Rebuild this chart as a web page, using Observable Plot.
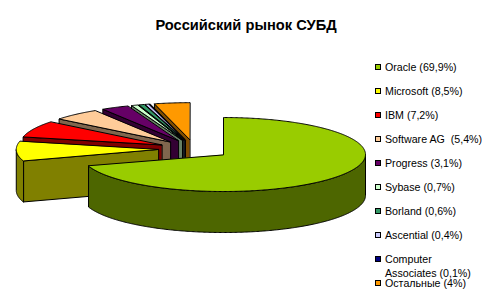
<!DOCTYPE html>
<html><head><meta charset="utf-8">
<script src="https://cdn.jsdelivr.net/npm/d3@7"></script>
<script src="https://cdn.jsdelivr.net/npm/@observablehq/plot@0.6"></script>
<style>
body{margin:0;background:#fff;}
#wrap{position:relative;width:492px;height:301px;overflow:hidden;font-family:"Liberation Sans",Arial,sans-serif;color:#000;}
#title{position:absolute;left:0;width:492px;text-align:center;top:17.6px;font-size:14.67px;font-weight:bold;line-height:1;}
#chart{position:absolute;left:0;top:0;}
.lg{position:absolute;left:375px;font-size:10.67px;line-height:14px;}
.sw{position:absolute;left:0;top:0;width:4px;height:4px;border:1px solid #000;}
.lt{position:absolute;left:10px;top:-4.2px;white-space:pre;}
</style></head><body>
<div id="wrap"><div id="chart"></div><div id="title"></div></div>
<script>
const title = "Российский рынок СУБД";
const vendors = ["Oracle", "Microsoft", "IBM", "Software AG ", "Progress", "Sybase", "Borland", "Ascential", "Computer Associates", "Остальные"];
const shares = [69.9, 8.5, 7.2, 5.4, 3.1, 0.7, 0.6, 0.4, 0.1, 4];
const shareLabels = ["69,9%", "8,5%", "7,2%", "5,4%", "3,1%", "0,7%", "0,6%", "0,4%", "0,1%", "4%"];
const colors = ["#99CC00", "#FFFF00", "#FF0000", "#FFCC99", "#660066", "#CCFFCC", "#339966", "#CCCCFF", "#000080", "#FF9900"];

// geometry (unit pie: x radius 1, y radius 1 after projection scales)
const CX = 193.8, CY = 148.5, RX = 142, RY = 37;
const EXPLODE = 0.254, THICK = 41 / RY;

const side = c => { const r = d3.rgb(c); return d3.rgb(r.r / 2, r.g / 2, r.b / 2).formatHex(); };
const arcs = d3.pie().sort(null).value(d => d)(shares);

function sample(a1, a2) {
  const n = Math.max(2, Math.ceil(Math.abs(a2 - a1) / (Math.PI / 360)));
  return d3.range(n + 1).map(i => a1 + (a2 - a1) * i / n);
}
const P = (ox, oy, a, dz = 0) => [ox + Math.sin(a), oy - Math.cos(a) + dz];

const pieces = [];
const order = arcs.map((a, i) => i).sort((i, j) => {
  const mi = (arcs[i].startAngle + arcs[i].endAngle) / 2, mj = (arcs[j].startAngle + arcs[j].endAngle) / 2;
  return -Math.cos(mi) + Math.cos(mj);
});
for (const i of order) {
  const {startAngle: a1, endAngle: a2} = arcs[i];
  const m = (a1 + a2) / 2;
  const ox = EXPLODE * Math.sin(m), oy = -EXPLODE * Math.cos(m);
  const top = colors[i], sd = side(colors[i]);
  if (Math.sin(a1) < -1e-6) {
    const p = P(ox, oy, a1);
    pieces.push({fill: sd, pts: [[ox, oy], p, [p[0], p[1] + THICK], [ox, oy + THICK]]});
  }
  if (Math.sin(a2) > 1e-6) {
    const p = P(ox, oy, a2);
    pieces.push({fill: sd, pts: [[ox, oy], p, [p[0], p[1] + THICK], [ox, oy + THICK]]});
  }
  const t1 = Math.max(a1, Math.PI / 2), t2 = Math.min(a2, 3 * Math.PI / 2);
  if (t2 > t1) {
    const s = sample(t1, t2);
    pieces.push({fill: sd, pts: [...s.map(a => P(ox, oy, a)), ...s.slice().reverse().map(a => P(ox, oy, a, THICK))]});
  }
  pieces.push({fill: top, pts: [[ox, oy], ...sample(a1, a2).map(a => P(ox, oy, a))]});
}
const rows = pieces.flatMap((p, k) => p.pts.map(([x, y]) => ({id: k, x, y, fill: p.fill})));

const chart = Plot.plot({
  width: 492, height: 301, margin: 0,
  x: {axis: null, domain: [-CX / RX, (492 - CX) / RX], range: [0, 492]},
  y: {axis: null, domain: [-CY / RY, (301 - CY) / RY], range: [0, 301]},
  color: {type: "identity"},
  marks: [
    Plot.line(rows, {x: "x", y: "y", z: "id", fill: "fill", stroke: "#000", strokeWidth: 1, curve: "linear-closed", strokeLinejoin: "miter"})
  ]
});
document.getElementById("chart").append(chart);
document.getElementById("title").textContent = title;

// legend
const ctx = document.createElement("canvas").getContext("2d");
ctx.font = "10.67px 'Liberation Sans'";
function wrap(s, w) {
  const words = s.split(" "); const lines = []; let cur = "";
  for (const wd of words) {
    const t = cur === "" ? wd : cur + " " + wd;
    if (cur !== "" && ctx.measureText(t).width > w && !cur.endsWith(" ")) { lines.push(cur); cur = wd; } else cur = t;
  }
  lines.push(cur); return lines.join("\n");
}
const wrapEl = document.getElementById("wrap");
vendors.forEach((v, i) => {
  const g = document.createElement("div"); g.className = "lg"; g.style.top = (64 + 24 * i) + "px";
  const sw = document.createElement("div"); sw.className = "sw"; sw.style.background = colors[i];
  const lt = document.createElement("div"); lt.className = "lt";
  lt.textContent = wrap(`${v} (${shareLabels[i]})`, 100);
  g.append(sw, lt); wrapEl.append(g);
});
</script>
</body></html>
